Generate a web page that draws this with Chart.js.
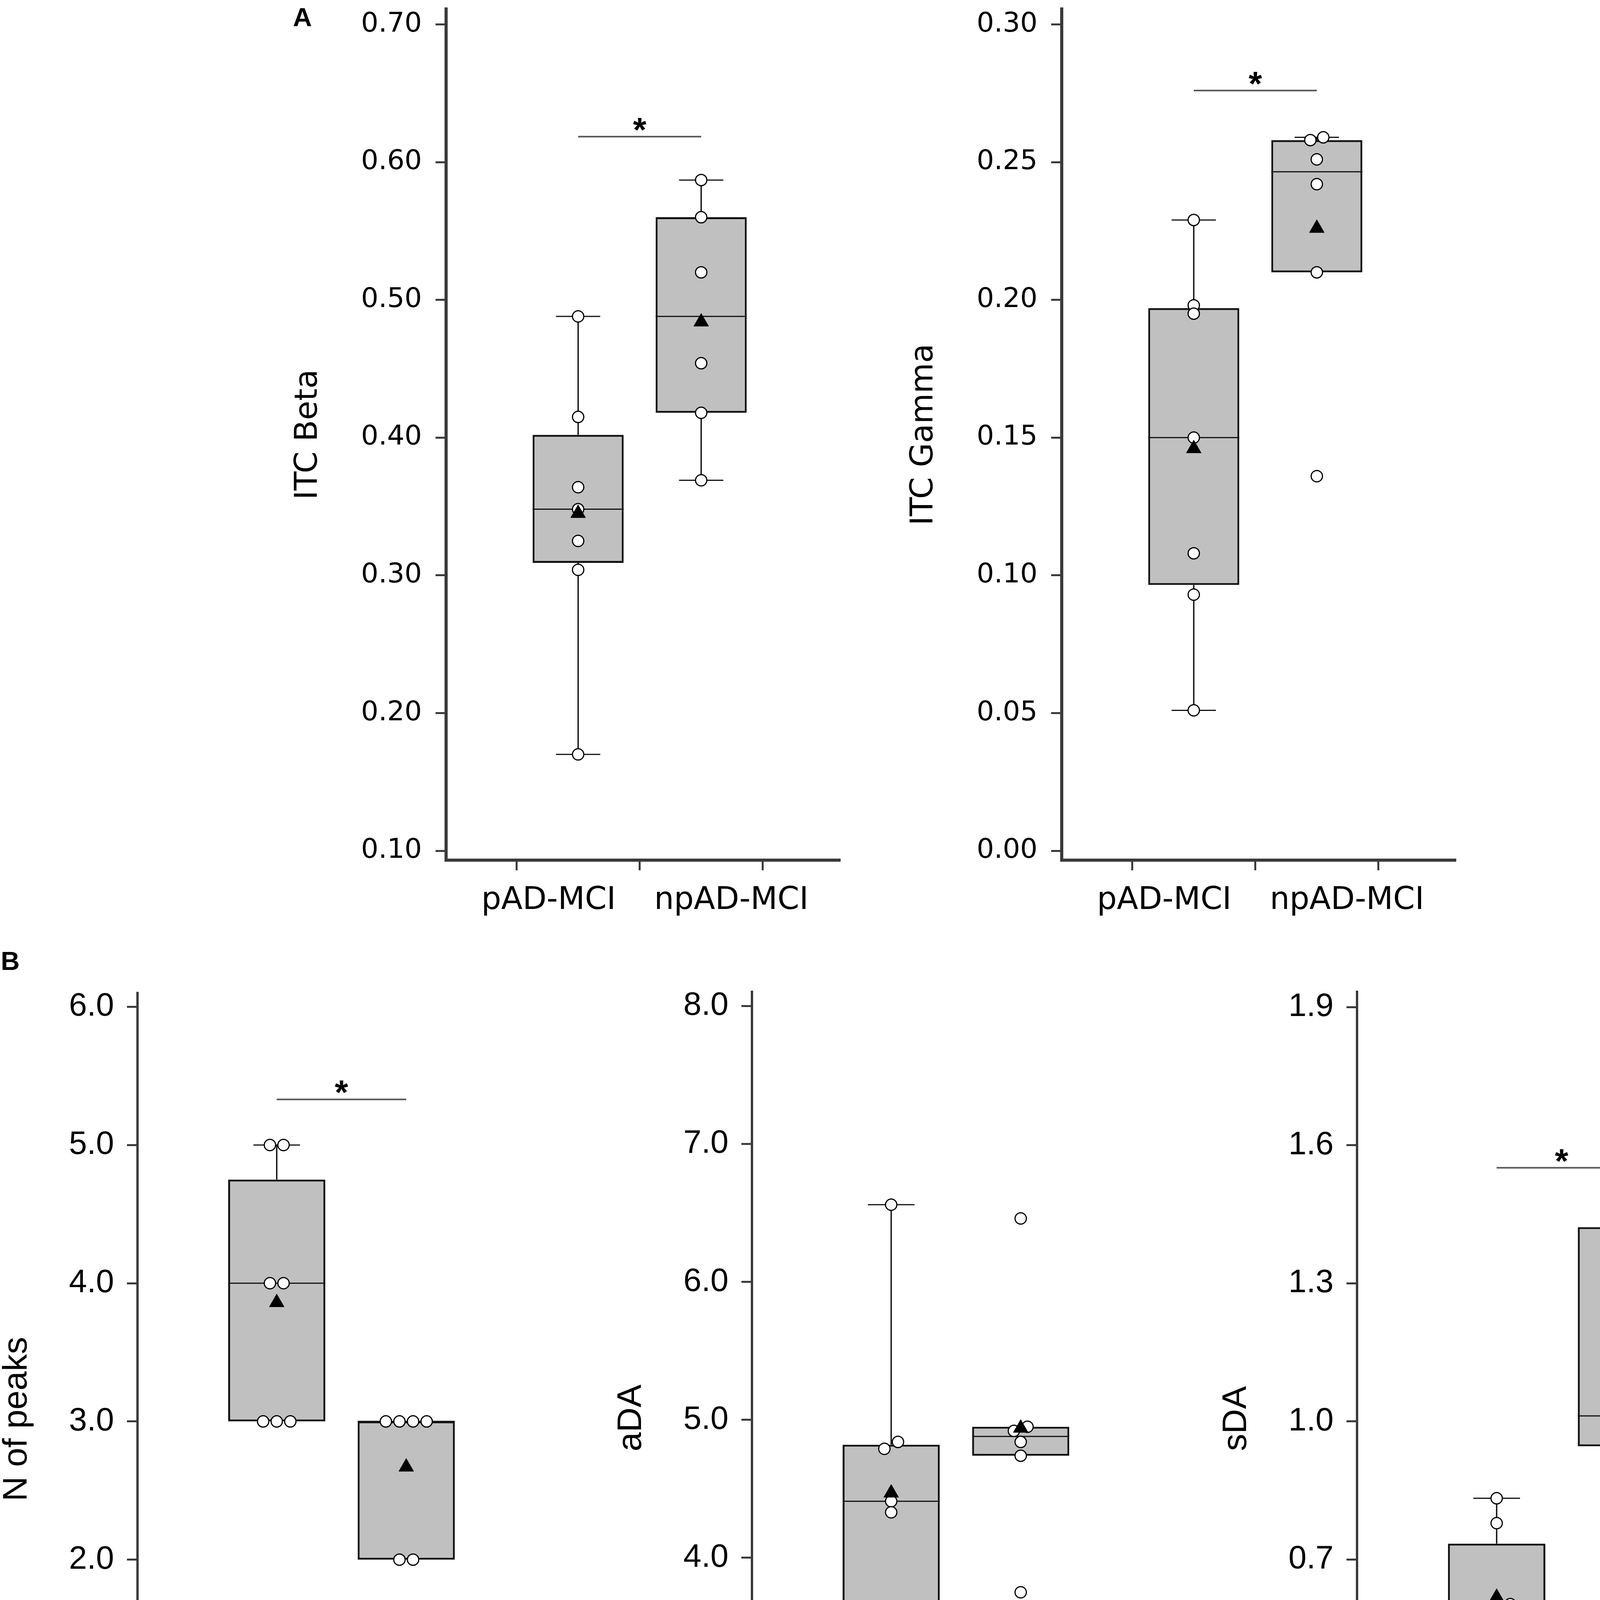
<!DOCTYPE html>
<html>
<head>
<meta charset="utf-8">
<script src="https://cdn.jsdelivr.net/npm/chart.js@4.4.0/dist/chart.umd.min.js"></script>
<style>
    body { margin: 0; background: #fff; width: 4550px; height: 4879px; position: relative; overflow: hidden; }
    canvas { position: absolute; }
    .tag { position: absolute; font: bold 67px 'Liberation Sans', Arial, sans-serif; color: #000; line-height: 1; }
</style>
</head>
<body>
<div class="tag" style="left:750px; top:10px;">A</div>
<div class="tag" style="left:2px; top:2426px;">B</div>
<script>
const groups = ['pAD-MCI', 'npAD-MCI'];

// ITC Beta
const betaTicks = ['0.10', '0.20', '0.30', '0.40', '0.50', '0.60', '0.70'];
const betaP = [0.488, 0.415, 0.364, 0.348, 0.325, 0.304, 0.170];
const betaNP = [0.587, 0.560, 0.520, 0.454, 0.418, 0.369];
const betaQ1 = [0.309, 0.418];
const betaMedian = [0.348, 0.488];
const betaQ3 = [0.402, 0.560];
const betaLow = [0.170, 0.369];
const betaHigh = [0.488, 0.587];
const betaMean = [0.345, 0.484];

// ITC Gamma
const gammaTicks = ['0.00', '0.05', '0.10', '0.15', '0.20', '0.25', '0.30'];
const gammaP = [0.229, 0.198, 0.195, 0.150, 0.108, 0.093, 0.051];
const gammaNP = [0.259, 0.258, 0.251, 0.242, 0.210, 0.136];
const gammaQ1 = [0.0965, 0.210];
const gammaMedian = [0.150, 0.2465];
const gammaQ3 = [0.197, 0.258];
const gammaLow = [0.051, null];
const gammaHigh = [0.229, 0.259];
const gammaMean = [0.146, 0.226];

// N of peaks
const peaksTicks = ['0.0', '1.0', '2.0', '3.0', '4.0', '5.0', '6.0'];
const peaksP = [5, 5, 4, 4, 3, 3, 3];
const peaksNP = [3, 3, 3, 3, 2, 2];
const peaksQ1 = [3, 2];
const peaksMedian = [4, 3];
const peaksQ3 = [4.75, 3];
const peaksLow = [null, null];
const peaksHigh = [5, null];
const peaksMean = [3.86, 2.67];

// aDA
const adaTicks = ['2.0', '3.0', '4.0', '5.0', '6.0', '7.0', '8.0'];
const adaP = [6.56, 4.84, 4.79, 4.41, 4.33, 3.35, 3.15];
const adaNP = [6.46, 4.95, 4.92, 4.84, 4.74, 3.75];
const adaQ1 = [3.59, 4.74];
const adaMedian = [4.41, 4.88];
const adaQ3 = [4.82, 4.95];
const adaLow = [3.15, null];
const adaHigh = [6.56, null];
const adaMean = [4.47, 4.94];

// sDA
const sdaTicks = ['0.1', '0.4', '0.7', '1.0', '1.3', '1.6', '1.9'];
const sdaP = [0.833, 0.779, 0.603, 0.597, 0.593, 0.469, 0.462];
const sdaNP = [1.459, 1.422, 1.044, 0.977, 0.945, 0.898];
const sdaQ1 = [0.498, 0.946];
const sdaMedian = [0.597, 1.012];
const sdaQ3 = [0.7345, 1.422];
const sdaLow = [0.462, 0.898];
const sdaHigh = [0.833, 1.459];
const sdaMean = [0.618, 1.125];

// significance bars (y value of the bar, null = none)
const sigLevels = [0.6185, 0.276, 5.33, null, 1.551];

const axisColor = '#3a3a3a';

// look of the two rows
const styleA = {
    tickFont: { family: 'DejaVu Sans', size: 70 },
    labelFont: { family: 'DejaVu Sans', size: 80 },
    titleFont: { family: 'DejaVu Sans', size: 80 },
    titleGap: 352, tickPad: 35, labelPad: 22, labelShift: [-0.24, 0.245],
    boxWidth: 0.74, yBorder: 8, xBorder: 8, bottomEdge: 2420, xMin: -0.073, xMax: 3.13
};
const styleB = {
    tickFont: { family: 'Liberation Sans', size: 83 },
    labelFont: { family: 'Liberation Sans', size: 87 },
    titleFont: { family: "'Liberation Sans Narrow', 'Liberation Sans'", size: 88 },
    titleGap: 308, tickPad: 33, labelPad: 9, labelShift: [-0.21, 0.24],
    boxWidth: 0.75, yBorder: 6, xBorder: 8, bottomEdge: 4879, xMin: -0.075, xMax: 3.125
};

const panels = [
    { title: 'ITC Beta', ticks: betaTicks, points: [betaP, betaNP], q1: betaQ1, median: betaMedian, q3: betaQ3,
      low: betaLow, high: betaHigh, mean: betaMean, sig: sigLevels[0], min: 0.0932, max: 0.7112,
      style: styleA, axisX: 1142, right: 2154, top: 6, bottom: 2202 },
    { title: 'ITC Gamma', ticks: gammaTicks, points: [gammaP, gammaNP], q1: gammaQ1, median: gammaMedian, q3: gammaQ3,
      low: gammaLow, high: gammaHigh, mean: gammaMean, sig: sigLevels[1], min: -0.0034, max: 0.3056,
      style: styleA, axisX: 2718, right: 3730, top: 6, bottom: 2202 },
    { title: 'N of peaks', ticks: peaksTicks, points: [peaksP, peaksNP], q1: peaksQ1, median: peaksMedian, q3: peaksQ3,
      low: peaksLow, high: peaksHigh, mean: peaksMean, sig: sigLevels[2], min: -0.067, max: 6.1007,
      style: styleB, axisX: 352, right: 1416, top: 2519, bottom: 4724 },
    { title: 'aDA', ticks: adaTicks, points: [adaP, adaNP], q1: adaQ1, median: adaMedian, q3: adaQ3,
      low: adaLow, high: adaHigh, mean: adaMean, sig: sigLevels[3], min: 1.9243, max: 8.1037,
      style: styleB, axisX: 1925, right: 2989, top: 2516, bottom: 4721 },
    { title: 'sDA', ticks: sdaTicks, points: [sdaP, sdaNP], q1: sdaQ1, median: sdaMedian, q3: sdaQ3,
      low: sdaLow, high: sdaHigh, mean: sdaMean, sig: sigLevels[4], min: 0.079, max: 1.9336,
      style: styleB, axisX: 3474, right: 4541, top: 2516, bottom: 4724 }
];

// spread points that sit (almost) on top of each other side by side, lowest on the left
function spread(values, range) {
    const order = values.map((v, i) => i).sort((a, b) => values[a] - values[b]);
    const offsets = values.map(() => 0);
    let cluster = [order[0]];
    const flush = () => {
        const n = cluster.length;
        cluster.forEach((idx, k) => { offsets[idx] = (k - (n - 1) / 2) * 0.105; });
    };
    for (let k = 1; k < order.length; k++) {
        if ((values[order[k]] - values[order[k - 1]]) / range < 0.009) {
            cluster.push(order[k]);
        } else {
            flush();
            cluster = [order[k]];
        }
    }
    flush();
    return offsets;
}

function line(ctx, x1, y1, x2, y2) {
    ctx.beginPath();
    ctx.moveTo(x1, y1);
    ctx.lineTo(x2, y2);
    ctx.stroke();
}

function buildChart(p) {
    const s = p.style;
    const padTop = 60, padRight = 20, tickLen = 26;
    const left = Math.round(p.axisX - s.titleGap - s.titleFont.size * 0.6);   // title centre sits titleGap left of the axis
    const top = p.top - padTop;
    const width = p.right + padRight - left;
    const height = s.bottomEdge - top;
    const yWidth = p.axisX - left;
    const xlHeight = s.bottomEdge - p.bottom - tickLen;

    const canvas = document.createElement('canvas');
    canvas.width = width;
    canvas.height = height;
    canvas.style.left = left + 'px';
    canvas.style.top = top + 'px';
    canvas.style.width = width + 'px';
    canvas.style.height = height + 'px';
    document.body.appendChild(canvas);

    // whiskers, caps and median drawn right after the boxes, below the dots
    const boxParts = {
        id: 'boxParts',
        afterDatasetDraw(chart, args) {
            if (args.index !== 0) return;
            const { ctx, scales: { x, y } } = chart;
            ctx.save();
            ctx.strokeStyle = '#111';
            for (let g = 0; g < 2; g++) {
                const cx = x.getPixelForValue(g + 1);
                const halfBox = x.getPixelForValue(g + 1 + s.boxWidth / 2) - cx;
                const halfCap = x.getPixelForValue(g + 1.18) - cx;
                ctx.lineWidth = 3;
                const my = y.getPixelForValue(p.median[g]);
                line(ctx, cx - halfBox, my, cx + halfBox, my);
                [[p.q3[g], p.high[g]], [p.q1[g], p.low[g]]].forEach(([edge, end]) => {
                    if (end === null) return;
                    const ey = y.getPixelForValue(end);
                    ctx.lineWidth = 3.5;
                    line(ctx, cx, y.getPixelForValue(edge), cx, ey);
                    ctx.lineWidth = 3;
                    line(ctx, cx - halfCap, ey, cx + halfCap, ey);
                });
            }
            ctx.restore();
        },
        afterDatasetsDraw(chart) {
            if (p.sig === null) return;
            const { ctx, scales: { x, y } } = chart;
            const sy = y.getPixelForValue(p.sig);
            ctx.save();
            ctx.strokeStyle = '#555';
            ctx.lineWidth = 4;
            line(ctx, x.getPixelForValue(1), sy, x.getPixelForValue(2), sy);
            ctx.fillStyle = '#000';
            ctx.font = 'bold 88px "Liberation Sans"';
            ctx.textAlign = 'center';
            ctx.textBaseline = 'alphabetic';
            ctx.fillText('*', x.getPixelForValue(1.5), sy + 12);
            ctx.restore();
        }
    };

    const range = p.max - p.min;
    const dots = [];
    p.points.forEach((vals, g) => {
        const off = spread(vals, range);
        vals.forEach((v, i) => dots.push({ x: g + 1 + off[i], y: v }));
    });

    new Chart(canvas, {
        type: 'scatter',
        data: {
            datasets: [
                {
                    type: 'bar',                                   // the boxes: q1 .. q3
                    data: groups.map((g, i) => ({ x: i + 1, y: [p.q1[i], p.q3[i]] })),
                    backgroundColor: '#c0c0c0',
                    borderColor: '#111',
                    borderWidth: 5,
                    borderSkipped: false,
                    barPercentage: s.boxWidth,
                    categoryPercentage: 1,
                    order: 3
                },
                {
                    data: dots,                                    // single values
                    pointRadius: 14.5,
                    pointBackgroundColor: '#fff',
                    pointBorderColor: '#000',
                    pointBorderWidth: 3,
                    order: 2
                },
                {
                    data: groups.map((g, i) => ({ x: i + 1, y: p.mean[i] })),   // group means
                    pointStyle: 'triangle',
                    pointRadius: 22,
                    pointBackgroundColor: '#000',
                    pointBorderColor: '#000',
                    pointBorderWidth: 1,
                    order: 1
                }
            ]
        },
        options: {
            responsive: false,
            animation: false,
            devicePixelRatio: 1,
            events: [],
            layout: { padding: { top: padTop, right: padRight, left: 0, bottom: 0 } },
            plugins: { legend: { display: false }, tooltip: { enabled: false } },
            scales: {
                x: {
                    type: 'linear', min: s.xMin, max: s.xMax, offset: false, weight: 0,
                    afterBuildTicks: sc => { sc.ticks = [{ value: 1 }, { value: 2 }]; },
                    afterFit: sc => { sc.height = tickLen; },
                    ticks: { display: false },
                    grid: { drawOnChartArea: false, tickLength: tickLen, tickWidth: 5, tickColor: axisColor },
                    border: { width: s.xBorder, color: axisColor }
                },
                xl: {
                    type: 'linear', position: 'bottom', min: s.xMin, max: s.xMax, offset: false, weight: 1,
                    afterBuildTicks: sc => { sc.ticks = groups.map((g, i) => ({ value: i + 1 + s.labelShift[i] })); },
                    afterFit: sc => { sc.height = xlHeight; },
                    ticks: { callback: (v, i) => groups[i], font: s.labelFont, color: '#000', padding: s.labelPad, maxRotation: 0, autoSkip: false },
                    grid: { display: false },
                    border: { display: false }
                },
                y: {
                    type: 'linear', min: p.min, max: p.max,
                    afterBuildTicks: sc => { sc.ticks = p.ticks.map(t => ({ value: parseFloat(t) })); },
                    afterFit: sc => { sc.width = yWidth; },
                    ticks: { callback: (v, i) => p.ticks[i], font: s.tickFont, color: '#000', padding: s.tickPad, autoSkip: false },
                    grid: { drawOnChartArea: false, tickLength: 27, tickWidth: 5, tickColor: axisColor },
                    border: { width: s.yBorder, color: axisColor },
                    title: { display: true, text: p.title, font: s.titleFont, color: '#000', padding: 0 }
                }
            }
        },
        plugins: [boxParts]
    });
}

panels.forEach(buildChart);
</script>
</body>
</html>
